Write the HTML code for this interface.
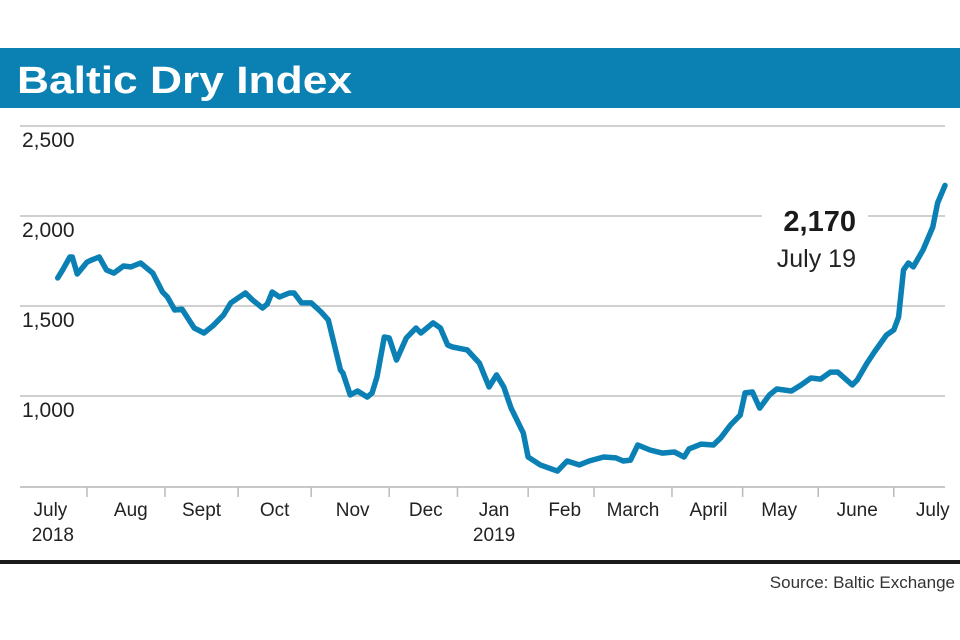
<!DOCTYPE html>
<html><head><meta charset="utf-8"><style>
html,body{margin:0;padding:0;background:#fff;}
svg{display:block;font-family:"Liberation Sans",sans-serif;}
</style></head><body>
<svg id="chart" width="960" height="640" viewBox="0 0 960 640">
<rect x="0" y="48" width="960" height="60" fill="#0a80b3"/>
<text x="17" y="93" font-size="38" font-weight="bold" fill="#fff" textLength="335" lengthAdjust="spacingAndGlyphs">Baltic Dry Index</text>
<g id="grid"></g>
<g id="ylabels"></g>
<g id="xaxis"></g>
<path id="line" fill="none" stroke="#0b80b5" stroke-width="5.5" stroke-linejoin="round" stroke-linecap="round"/>
<rect x="762" y="200" width="106" height="70" fill="#fff"/>
<text x="856" y="231" font-size="29" font-weight="bold" fill="#1a1a1a" text-anchor="end">2,170</text>
<text x="856" y="267" font-size="25" fill="#222" text-anchor="end">July 19</text>
<rect x="0" y="560" width="960" height="4" fill="#1a1a1a"/>
<text x="955" y="588" font-size="17" fill="#333" text-anchor="end">Source: Baltic Exchange</text>
</svg>
<script>
// days since 1 July 2018
const days = [19,21,24,25,27,31,33,36,39,42,46,49,53,58,62,64,67,70,75,79,83,87,90,96,99,103,105,107,110,114,116,119,123,127,130,135,136,139,142,146,148,150,153,155,158,162,166,168,173,176,179,181,187,192,196,199,202,205,210,212,217,224,228,233,237,243,248,251,254,257,262,267,272,276,278,283,288,291,295,299,301,304,307,311,314,320,324,328,332,336,339,345,347,351,354,359,362,364,366,368,370,374,378,380,383];
const values = [1656,1700,1772,1772,1678,1744,1756,1772,1700,1683,1722,1717,1739,1683,1578,1550,1478,1483,1378,1350,1394,1450,1517,1572,1533,1489,1511,1578,1550,1572,1572,1517,1517,1467,1422,1144,1128,1006,1028,994,1017,1106,1328,1322,1200,1322,1378,1350,1406,1378,1283,1272,1256,1183,1050,1117,1050,933,794,661,617,583,639,617,639,661,656,639,644,728,700,683,689,661,706,733,728,767,839,894,1017,1022,933,1006,1039,1028,1061,1100,1094,1133,1133,1061,1089,1183,1244,1339,1367,1439,1700,1739,1717,1811,1939,2072,2170];
const yTicks = [1000,1500,2000,2500];
const yTickLabels = ["1,000","1,500","2,000","2,500"];
const monthTickDays = [31,63,93,123,155,183,212,239,271,300,331,362];
const monthLabels = ["July","Aug","Sept","Oct","Nov","Dec","Jan","Feb","March","April","May","June","July"];
const monthLabelDays = [16,49,78,108,140,170,198,227,255,286,315,347,378];
const yearLabels = ["2018","2019"];
const yearLabelDays = [17,198];

const NS="http://www.w3.org/2000/svg";
function xs(d){return 11.4+d*2.4375;}
function ys(v){return 486-(v-500)*0.18;}
function mk(tag,attrs,parent,txt){const e=document.createElementNS(NS,tag);for(const k in attrs)e.setAttribute(k,attrs[k]);if(txt!==undefined)e.textContent=txt;parent.appendChild(e);return e;}
const grid=document.getElementById('grid'),yl=document.getElementById('ylabels'),xa=document.getElementById('xaxis');
yTicks.forEach((v,i)=>{
  const l=mk('line',{x1:20,x2:945,y1:ys(v),y2:ys(v),stroke:'#d0d0d0','stroke-width':2},grid);
  
  
  const t=mk('text',{x:22,y:ys(v)+21,'font-size':21,fill:'#222'},yl,yTickLabels[i]);
  
  
});
const base=mk('line',{x1:20,x2:945,y1:487,y2:487,stroke:'#c8c8c8','stroke-width':2},xa);


monthTickDays.forEach(d=>{
  const t=mk('line',{x1:xs(d),x2:xs(d),y1:487,y2:497,stroke:'#bbb','stroke-width':1.5},xa);
  
  
});
monthLabels.forEach((m,i)=>{
  const t=mk('text',{x:xs(monthLabelDays[i]),y:516,'font-size':19,fill:'#222','text-anchor':'middle'},xa,m);
  
  
});
yearLabels.forEach((y,i)=>{
  const t=mk('text',{x:xs(yearLabelDays[i]),y:541,'font-size':19,fill:'#222','text-anchor':'middle'},xa,y);
  
  
});
document.getElementById('line').setAttribute('d',days.map((d,i)=>(i?'L':'M')+xs(d).toFixed(1)+' '+ys(values[i]).toFixed(1)).join(' '));
</script>
</body></html>
